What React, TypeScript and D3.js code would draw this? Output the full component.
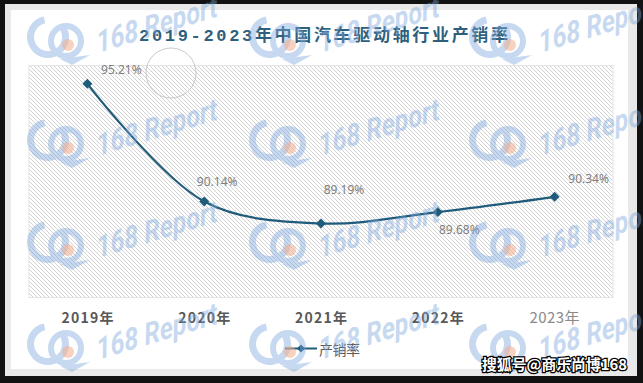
import React, { useEffect } from 'react';
import * as d3 from 'd3';

// ---- data ----
const years: string[] = ['2019年', '2020年', '2021年', '2022年', '2023年'];
const rates: number[] = [95.21, 90.14, 89.19, 89.68, 90.34];
const rateLabels: string[] = ['95.21%', '90.14%', '89.19%', '89.68%', '90.34%'];
const yDomain: [number, number] = [86, 96];
const seriesName = '产销率';
const titleText = '2019-2023年中国汽车驱动轴行业产销率';
const sourceText = '搜狐号@商乐尚博168';

// ---- layout ----
const W = 643;
const H = 383;
const plot = { left: 29, right: 613, top: 65.5, bottom: 297.5 };
const labelDx = [34, 13, 23, 21.5, 34];
const labelDy = [-10, -15, -29, 22, -14];
const wmCols = [68, 290, 510];
const wmRows = [45, 148, 250, 352];
const LINE = '#1f5b7a';

const diamond = (cx: number, cy: number, r: number) =>
  `M${cx},${cy - r}L${cx + r},${cy}L${cx},${cy + r}L${cx - r},${cy}Z`;

export default function App() {
  useEffect(() => {
    document.body.style.margin = '0';
    document.body.style.background = '#121212';
  }, []);

  const x = d3.scaleBand<string>().domain(years).range([plot.left, plot.right]).padding(0);
  const cx = (d: string) => (x(d) as number) + x.bandwidth() / 2;
  const y = d3.scaleLinear().domain(yDomain).range([plot.bottom, plot.top]);

  const pts: [number, number][] = years.map((d, i) => [cx(d), y(rates[i])]);
  const line = d3.line<[number, number]>().curve(d3.curveCatmullRom.alpha(0.5));
  const pathD = line(pts) || '';

  const wm: { x: number; y: number }[] = [];
  wmRows.forEach((ry) => wmCols.forEach((rx) => wm.push({ x: rx, y: ry })));

  return (
    <svg width={W} height={H} style={{ position: 'absolute', left: 0, top: 0, display: 'block' }}>
      <defs>
        <pattern id="hatch" patternUnits="userSpaceOnUse" width="4" height="4">
          <rect width="4" height="4" fill="#ffffff" />
          <path d="M-1,-1L5,5M-1,3L1,5M3,-1L5,1" stroke="#d2d2d2" strokeWidth="1" />
        </pattern>
      </defs>
      <rect x={0} y={0} width={W} height={H} fill="#121212" />
      <rect x={5} y={4} width={632} height={372} fill="#e9e9e9" />
      <rect x={11} y={10} width={617} height={359} fill="#ffffff" />

      {/* plot area */}
      <rect
        x={plot.left}
        y={plot.top}
        width={plot.right - plot.left}
        height={plot.bottom - plot.top}
        fill="url(#hatch)"
        stroke="#e4e4e4"
        strokeWidth={1}
      />
      <circle cx={171} cy={73} r={25} fill="none" stroke="#c9c9c9" strokeWidth={1} />

      {/* title */}
      <text
        x={323.5}
        y={41}
        textAnchor="middle"
        fontFamily="'Liberation Mono', 'Noto Sans CJK SC', monospace"
        fontWeight="bold"
        fontSize={17}
        fill="#2f5f7c"
        textLength={369}
        lengthAdjust="spacing"
      >
        {titleText}
      </text>

      {/* series */}
      <path d={pathD} fill="none" stroke={LINE} strokeWidth={2.2} />
      {pts.map(([px, py], i) => (
        <path key={'m' + i} d={diamond(px, py, 5)} fill={LINE} />
      ))}
      {pts.map(([px, py], i) => (
        <text
          key={'l' + i}
          x={px + labelDx[i]}
          y={py + labelDy[i]}
          textAnchor="middle"
          fontFamily="'Noto Sans', sans-serif"
          fontSize={12}
          fill="#7f7f7f"
        >
          {rateLabels[i]}
        </text>
      ))}

      {/* x axis labels */}
      {years.map((d, i) => {
        const last = i === years.length - 1;
        return (
          <text
            key={'x' + i}
            x={cx(d)}
            y={322.5}
            textAnchor="middle"
            fontFamily="'Noto Sans CJK SC', 'Noto Sans', sans-serif"
            fontWeight={last ? 'normal' : 'bold'}
            fontSize={last ? 15 : 14}
            fill={last ? '#8a8a8a' : '#595959'}
            textLength={last ? 50 : 52}
            lengthAdjust="spacing"
          >
            {d}
          </text>
        );
      })}

      {/* legend */}
      <line x1={285} x2={317} y1={348.5} y2={348.5} stroke={LINE} strokeWidth={2} />
      <path d={diamond(301, 348.5, 4)} fill={LINE} />
      <text
        x={319}
        y={355}
        fontFamily="'Noto Sans CJK SC', sans-serif"
        fontSize={14}
        fill="#595959"
        textLength={41}
        lengthAdjust="spacing"
      >
        {seriesName}
      </text>

      {/* watermarks */}
      <g pointerEvents="none">
        {wm.map((p, i) => (
          <g key={'w' + i}>
            <g opacity={0.42}>
              <path
                d={d3.arc()({ innerRadius: 14, outerRadius: 21, startAngle: 0.9, endAngle: 2 * Math.PI - 0.2 }) || ''}
                transform={`translate(${p.x - 20},${p.y - 8})`}
                fill="#7ba7dd"
              />
              <circle cx={p.x - 2} cy={p.y - 4} r={15} fill="none" stroke="#7ba7dd" strokeWidth={6} />
              <path
                d={`M${p.x - 8},${p.y + 14}L${p.x + 22},${p.y + 10}L${p.x + 4},${p.y + 20}Z`}
                fill="#7ba7dd"
              />
            </g>
            <circle cx={p.x} cy={p.y} r={6} fill="#f3ad8c" opacity={0.55} />
            <g transform={`translate(${p.x + 30},${p.y + 8}) rotate(-17) skewX(-10)`}>
              <text
                x={0}
                y={0}
                fontFamily="Roboto, 'DejaVu Sans', sans-serif"
                fontWeight="bold"
                fontStyle="italic"
                fontSize={30}
                fill="#7ba7dd"
                opacity={0.42}
                textLength={126}
                lengthAdjust="spacingAndGlyphs"
              >
                168 Report
              </text>
            </g>
          </g>
        ))}
      </g>

      {/* source */}
      <text
        x={482}
        y={370}
        fontFamily="'Noto Sans CJK SC', sans-serif"
        fontWeight="bold"
        fontSize={15}
        fill="#ffffff"
        stroke="#000000"
        strokeWidth={2.5}
        paintOrder="stroke"
        textLength={145}
        lengthAdjust="spacingAndGlyphs"
      >
        {sourceText}
      </text>
    </svg>
  );
}
